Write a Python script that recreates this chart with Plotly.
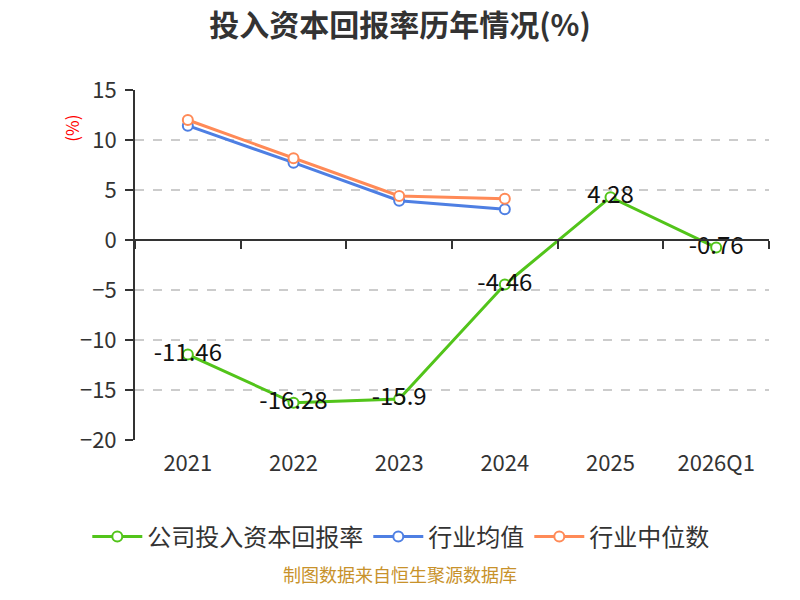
import plotly.graph_objects as go

years = ["2021", "2022", "2023", "2024", "2025", "2026Q1"]
company_roic = [-11.46, -16.28, -15.9, -4.46, 4.28, -0.76]
industry_mean = [11.43, 7.73, 3.93, 3.07, None, None]
industry_median = [12.0, 8.17, 4.4, 4.13, None, None]

GREEN, BLUE, ORANGE = "#52c41a", "#4e7fe3", "#ff8a57"
FONT = "Noto Sans CJK SC"
xs = list(range(len(years)))

fig = go.Figure()


def add_series(name, vals, color, labels=False):
    fig.add_trace(go.Scatter(
        x=xs, y=vals, name=name, mode="lines+markers+text" if labels else "lines+markers",
        line=dict(color=color, width=3),
        marker=dict(symbol="circle", size=10, color="white", line=dict(color=color, width=2)),
        text=[str(v) for v in vals] if labels else None,
        textposition="middle center",
        textfont=dict(size=24, color="#111", family=FONT),
        cliponaxis=False,
    ))


add_series("公司投入资本回报率", company_roic, GREEN, labels=True)
add_series("行业均值", industry_mean, BLUE)
add_series("行业中位数", industry_median, ORANGE)

# dummy trace so the zero-line axis with category ticks gets drawn
fig.add_trace(go.Scatter(x=[0], y=[None], xaxis="x2", showlegend=False, hoverinfo="skip"))

# page has an 8px body margin, so offsets are shifted by 8px
fig.update_layout(
    width=800, height=600,
    paper_bgcolor="white", plot_bgcolor="white",
    margin=dict(l=127, r=39, t=82, b=168, autoexpand=False),
    font=dict(family=FONT, color="#333"),
    title=dict(text="<b>投入资本回报率历年情况(%)</b>", xref="container", x=0.49, xanchor="center",
               y=1 - 17 / 600, yanchor="middle", font=dict(size=30, color="#333")),
    showlegend=True,
    legend=dict(orientation="h", xref="container", x=0.491, xanchor="center",
                y=-0.277, yanchor="middle", font=dict(size=24, color="#333"),
                itemwidth=50, tracegroupgap=0),
    xaxis=dict(range=[-0.5, 5.5], tickvals=xs, ticktext=years, showline=False,
               showgrid=False, zeroline=False, ticks="", tickangle=0, automargin=False,
               ticklabelstandoff=8, tickfont=dict(size=22, color="#333")),
    xaxis2=dict(overlaying="x", anchor="free", position=20 / 35, range=[-0.5, 5.5],
                tickvals=[i - 0.5 for i in range(len(years) + 1)], ticks="outside",
                ticklen=8, tickwidth=2, tickcolor="#333", showticklabels=False,
                showline=True, linecolor="#333", linewidth=2, showgrid=False, zeroline=False),
    yaxis=dict(range=[-20, 15], dtick=5, showgrid=True, gridcolor="#cccccc", griddash="dash",
               gridwidth=1.5, zeroline=False, showline=True, linecolor="#333", linewidth=2,
               ticks="outside", ticklen=8, tickwidth=2, tickcolor="#333", automargin=False,
               ticklabelstandoff=4, tickfont=dict(size=22, color="#333")),
    annotations=[
        dict(text="(%)", xref="paper", yref="paper", x=-0.1, y=0.891, showarrow=False,
             xanchor="center", yanchor="middle",
             textangle=-90, font=dict(size=17, color="red")),
        dict(text="制图数据来自恒生聚源数据库", xref="paper", yref="paper", x=(400 - 135) / 634,
             y=-0.426, showarrow=False, font=dict(size=18, color="#c8922b")),
    ],
)

fig.write_html("out.html")
